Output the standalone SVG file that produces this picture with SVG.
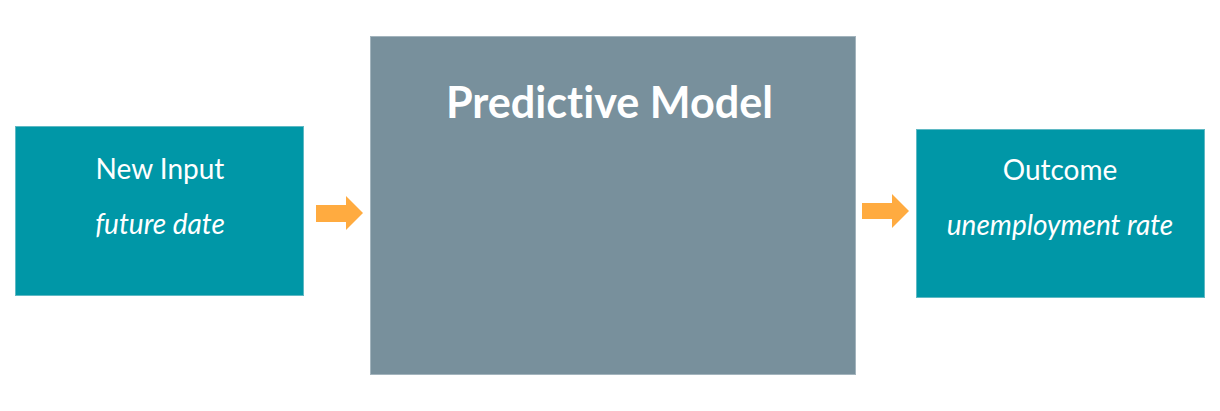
<svg xmlns="http://www.w3.org/2000/svg" width="1220" height="411" viewBox="0 0 1220 411">
<style>
.teal{fill:#0097a7;stroke:#5fb9c4;stroke-width:1}
.grey{fill:#78909c;stroke:#a3b4bd;stroke-width:1}
.arrow{fill:#ffab40}
text{font-family:Lato,"Noto Sans","Liberation Sans",sans-serif;fill:#ffffff;text-anchor:middle;font-variant-ligatures:none}
.lbl{font-size:28px}
.sub{font-size:28px;font-style:italic}
.title{font-size:43.2px;font-weight:bold}
</style>
<rect width="1220" height="411" fill="#ffffff"/>
<g id="new-input">
<rect class="teal" x="15.5" y="126.5" width="288" height="169"/>
<text class="lbl" x="160" y="179">New Input</text>
<text class="sub" x="160" y="234">future date</text>
</g>
<g id="predictive-model">
<rect class="grey" x="370.5" y="36.5" width="485" height="338"/>
<text class="title" x="609.5" y="117.5">Predictive Model</text>
</g>
<g id="outcome">
<rect class="teal" x="916.5" y="129.5" width="288" height="168"/>
<text class="lbl" x="1060" y="180">Outcome</text>
<text class="sub" x="1060" y="235">unemployment rate</text>
</g>
<g id="connectors">
<polygon class="arrow" points="316,205 346,205 346,196 363,213 346,230 346,222 316,222"/>
<polygon class="arrow" points="862,203 892,203 892,194 909,211 892,228 892,219 862,219"/>
</g>
</svg>
